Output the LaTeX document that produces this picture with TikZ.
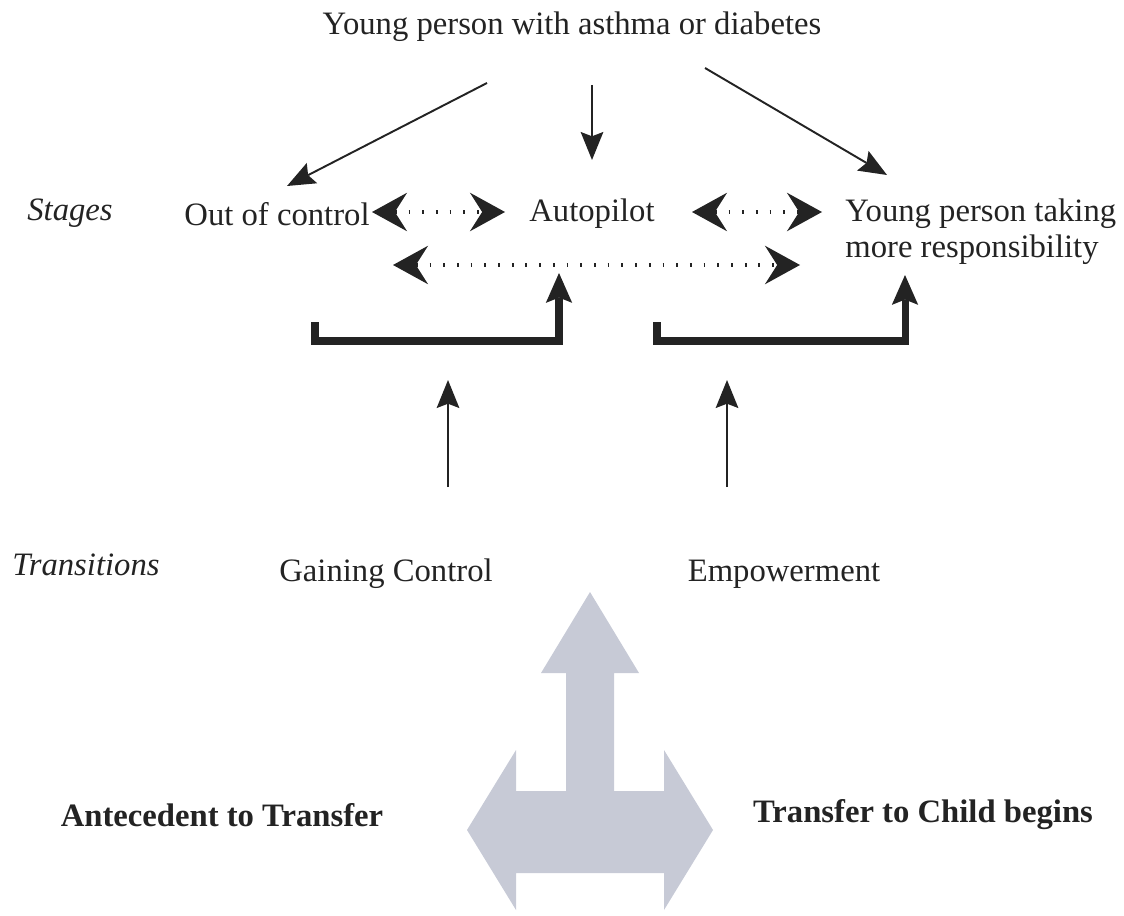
\documentclass[tikz,border=0pt]{standalone}
\usepackage{fontspec}
\setmainfont{Liberation Serif}
\usepackage{xcolor}
\usetikzlibrary{arrows.meta, positioning, calc}
\definecolor{inkgray}{RGB}{35,35,35}
\definecolor{shapegray}{RGB}{199,202,214}
\tikzstyle{txt} = [inner sep=0pt, text=inkgray, font=\fontsize{18.6}{20.5}\selectfont]
\tikzstyle{thinarrow} = [-{Stealth[length=16pt, width=13pt, inset=2.5pt, line width=0pt]}, line width=1.1pt, draw=inkgray]
\tikzstyle{dotarrow} = [{Stealth[length=20pt, width=22pt, inset=7pt, line width=0pt]}-{Stealth[length=20pt, width=22pt, inset=7pt, line width=0pt]}, line width=2.6pt, dash pattern=on 1pt off 6.8pt, draw=inkgray]
\tikzstyle{bracket} = [-{Stealth[length=17pt, width=15pt, inset=3pt, line width=0pt]}, line width=4pt, line join=miter, draw=inkgray]

\begin{document}
\begin{tikzpicture}[x=0.02cm, y=-0.02cm]
    \useasboundingbox (0,0) rectangle (1124,915);

    % Top
    \node[txt] (young) at (572,27) {Young person with asthma or diabetes};

    % Stages
    \node[txt, font=\fontsize{18.6}{20.5}\selectfont\itshape] (stages) at (70,213) {Stages};
    \node[txt] (ooc) at (277,214) {Out of control};
    \node[txt] (auto) at (592,214) {Autopilot};
    \node[txt, anchor=west, align=left] (ypt) at (845,232) {Young person taking\\more responsibility};

    % Arrows from the top
    \draw[thinarrow] ([shift={(-85,56)}]young.center) -- ([shift={(10,-28)}]ooc.center);
    \draw[thinarrow] ([shift={(20,58)}]young.center) -- ([shift={(0,-54)}]auto.center);
    \draw[thinarrow] ([shift={(133,41)}]young.center) -- ([shift={(42,-57)}]ypt.west);

    % Moving between stages
    \draw[dotarrow] ([shift={(95,-2)}]ooc.center) -- ([shift={(-87,-2)}]auto.center);
    \draw[dotarrow] ([shift={(100,-2)}]auto.center) -- ([shift={(-23,-20)}]ypt.west);
    \draw[dotarrow] ([shift={(116,51)}]ooc.center) -- ([shift={(-45,33)}]ypt.west);

    % Transitions
    \node[txt, font=\fontsize{18.6}{20.5}\selectfont\itshape] (trans) at (86,565) {Transitions};
    \node[txt] (gc) at (386,574) {Gaining Control};
    \node[txt] (emp) at (784,574) {Empowerment};

    % Brackets
    \draw[bracket] (315,322) |- (559,341) -- ([shift={(-33,59)}]auto.center);
    \draw[bracket] (657,322) |- (905,341) -- ([shift={(60,43)}]ypt.west);
    \draw[thinarrow] ([shift={(62,-87)}]gc.center) -- ([shift={(62,-194)}]gc.center);
    \draw[thinarrow] ([shift={(-57,-87)}]emp.center) -- ([shift={(-57,-194)}]emp.center);

    % Big arrow
    \fill[shapegray] (590,592) -- (639,673) -- (614,673) -- (614,791) -- (664,791) -- (664,750)
        -- (713,830) -- (664,910) -- (664,873) -- (516,873) -- (516,910) -- (467,830)
        -- (516,750) -- (516,791) -- (566,791) -- (566,673) -- (541,673) -- cycle;
    \node[txt, font=\fontsize{18.6}{20.5}\selectfont\bfseries] (ante) at (222,815) {Antecedent to Transfer};
    \node[txt, font=\fontsize{18.6}{20.5}\selectfont\bfseries] (child) at (923,815) {Transfer to Child begins};
\end{tikzpicture}
\end{document}
